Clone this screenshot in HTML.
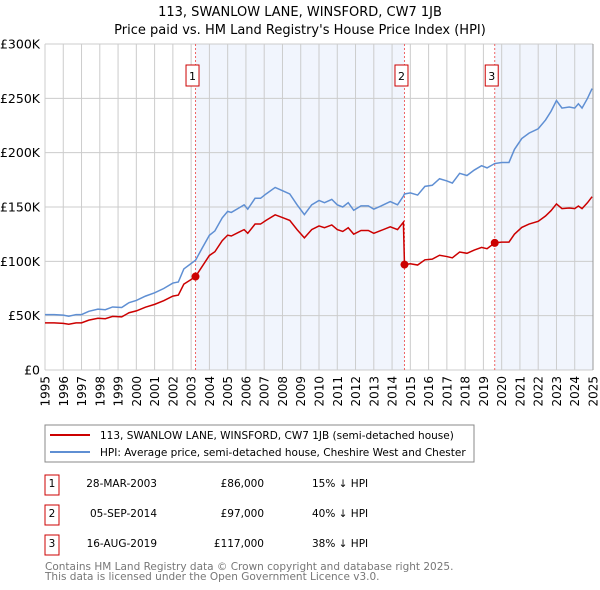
<!DOCTYPE html>
<html><head><meta charset="utf-8">
<style>
body{margin:0;background:#fff;font-family:"DejaVu Sans","Liberation Sans",sans-serif;}
#wrap{position:relative;width:600px;height:590px;overflow:hidden}
</style></head>
<body>
<div id="wrap">
<svg id="chart" width="600" height="590" font-family="DejaVu Sans, Liberation Sans, sans-serif">
<text x="300" y="16" text-anchor="middle" font-size="13">113, SWANLOW LANE, WINSFORD, CW7 1JB</text>
<text x="300" y="34" text-anchor="middle" font-size="13">Price paid vs. HM Land Registry's House Price Index (HPI)</text>
<g id="plot"></g>
<rect x="45" y="425" width="429" height="37" fill="#fff" stroke="#888"/>
<line x1="50" y1="435" x2="90" y2="435" stroke="#cc0000" stroke-width="2"/>
<text x="100" y="439" font-size="10.5">113, SWANLOW LANE, WINSFORD, CW7 1JB (semi-detached house)</text>
<line x1="50" y1="452" x2="90" y2="452" stroke="#5f8fd3" stroke-width="2"/>
<text x="100" y="456" font-size="10.5">HPI: Average price, semi-detached house, Cheshire West and Chester</text>
<g font-size="10.5">
<rect x="45" y="475" width="14" height="20" fill="none" stroke="#cc0000"/><text x="52" y="487" text-anchor="middle">1</text>
<text x="157" y="487" text-anchor="end">28-MAR-2003</text><text x="264" y="487" text-anchor="end">£86,000</text><text x="312" y="487">15% ↓ HPI</text>
<rect x="45" y="505" width="14" height="20" fill="none" stroke="#cc0000"/><text x="52" y="517" text-anchor="middle">2</text>
<text x="157" y="517" text-anchor="end">05-SEP-2014</text><text x="264" y="517" text-anchor="end">£97,000</text><text x="312" y="517">40% ↓ HPI</text>
<rect x="45" y="535" width="14" height="20" fill="none" stroke="#cc0000"/><text x="52" y="547" text-anchor="middle">3</text>
<text x="157" y="547" text-anchor="end">16-AUG-2019</text><text x="264" y="547" text-anchor="end">£117,000</text><text x="312" y="547">38% ↓ HPI</text>
</g>
<text x="45" y="570" font-size="10.5" fill="#777">Contains HM Land Registry data © Crown copyright and database right 2025.</text>
<text x="45" y="580" font-size="10.5" fill="#777">This data is licensed under the Open Government Licence v3.0.</text>
</svg>
</div>
<script>
const yTicks=[0,50,100,150,200,250,300];
const yTickLabels=["£0","£50K","£100K","£150K","£200K","£250K","£300K"];
const xYears=[1995,1996,1997,1998,1999,2000,2001,2002,2003,2004,2005,2006,2007,2008,2009,2010,2011,2012,2013,2014,2015,2016,2017,2018,2019,2020,2021,2022,2023,2024,2025];
const saleDates=[2003.24,2014.68,2019.62];
const salePrices=[86,97,117];
const saleLabels=["1","2","3"];
const hpiDates=[1995.0,1995.5,1996.0,1996.3,1996.7,1997.0,1997.4,1997.9,1998.3,1998.7,1999.2,1999.6,2000.0,2000.5,2001.0,2001.5,2002.0,2002.3,2002.6,2003.0,2003.24,2003.6,2004.0,2004.3,2004.7,2005.0,2005.2,2005.6,2005.9,2006.1,2006.5,2006.8,2007.1,2007.6,2008.0,2008.4,2008.8,2009.2,2009.6,2010.0,2010.3,2010.7,2011.0,2011.3,2011.6,2011.9,2012.3,2012.7,2013.0,2013.4,2013.9,2014.3,2014.62,2014.68,2015.0,2015.4,2015.8,2016.2,2016.6,2017.0,2017.3,2017.7,2018.1,2018.5,2018.9,2019.2,2019.62,2020.0,2020.4,2020.7,2021.1,2021.5,2022.0,2022.4,2022.7,2023.0,2023.3,2023.7,2024.0,2024.2,2024.4,2024.7,2024.95];
const hpiValues=[51,51,50.5,49.5,51,51,54,56,55.5,58,57.5,62,64,68,71,75,80,81,93,98,101,112,124,128,140,146,145,149,152,148,158,158,162,168,165,162,152,143,152,156,154,157,152,150,154,147,151,151,148,151,155,152,160,162,163,161,169,170,176,174,172,181,179,184,188,186,190,191,191,203,213,218,222,230,238,248,241,242,241,245,241,250,259];
const priceValues=[43.4,43.4,42.9,42.1,43.4,43.4,45.9,47.6,47.2,49.3,48.9,52.7,54.4,57.8,60.4,63.8,68,68.9,79,83.3,86,95.2,105.4,108.8,119,124.1,123.3,126.7,129.2,125.8,134.3,134.3,137.7,142.8,140.3,137.7,129.2,121.6,129.2,132.6,130.9,133.5,129.2,127.5,130.9,125,128.4,128.4,125.8,128.4,131.8,129.2,136,97,97.8,96.6,101.4,102,105.6,104.4,103.2,108.6,107.4,110.4,112.8,111.6,117,117.7,117.7,125,131.2,134.3,136.8,141.7,146.6,152.8,148.5,149.1,148.5,150.9,148.5,154,159.5];

const X0=45,X1=593,Y0=370,Y1=44;
const xs=v=>X0+(v-1995)/30*(X1-X0);
const ys=v=>Y0-v/300*(Y0-Y1);
const NS="http://www.w3.org/2000/svg";
const g=document.getElementById('plot');
function mk(t,a){const e=document.createElementNS(NS,t);for(const k in a)e.setAttribute(k,a[k]);g.appendChild(e);return e;}

let e;
e=mk('rect',{x:xs(saleDates[0]),y:Y1,width:xs(saleDates[1])-xs(saleDates[0]),height:Y0-Y1,fill:'#f1f5fd'});


e=mk('rect',{x:xs(saleDates[2]),y:Y1,width:X1-xs(saleDates[2]),height:Y0-Y1,fill:'#f1f5fd'});



xYears.forEach((yr,i)=>{
  e=mk('line',{x1:xs(yr),x2:xs(yr),y1:Y1,y2:Y0,stroke:'#cccccc','stroke-width':1});
  
  
  const x=xs(yr)+4.5;
  e=mk('text',{x:x,y:376,'font-size':12,'text-anchor':'end',transform:`rotate(-90 ${x} 376)`});
  e.textContent=String(yr);
  
  
});
yTicks.forEach((v,i)=>{
  e=mk('line',{x1:X0,x2:X1,y1:ys(v),y2:ys(v),stroke:'#cccccc','stroke-width':1});
  
  
  e=mk('text',{x:40,y:ys(v)+4.5,'font-size':12.5,'text-anchor':'end'});
  e.textContent=yTickLabels[i];
  
  
});
e=mk('line',{x1:X1,x2:X1,y1:Y1,y2:Y0,stroke:'#999','stroke-width':1});



saleDates.forEach((d,i)=>{
  e=mk('line',{x1:xs(d),x2:xs(d),y1:Y1,y2:Y0,stroke:'#e66','stroke-width':1,'stroke-dasharray':'2,2'});
  
  
});

e=mk('polyline',{points:hpiDates.map((d,i)=>xs(d)+','+ys(hpiValues[i])).join(' '),fill:'none',stroke:'#5f8fd3','stroke-width':1.5});


e=mk('polyline',{points:hpiDates.map((d,i)=>xs(d)+','+ys(priceValues[i])).join(' '),fill:'none',stroke:'#cc0000','stroke-width':1.5});



saleDates.forEach((d,i)=>{
  e=mk('circle',{cx:xs(d),cy:ys(salePrices[i]),r:4,fill:'#cc0000'});
  
  
  const bx=xs(d)-3;
  e=mk('rect',{x:bx-6.5,y:65,width:13,height:21,fill:'#fff',stroke:'#cc0000'});
  
  
  e=mk('text',{x:bx,y:80,'font-size':11,'text-anchor':'middle'});
  e.textContent=saleLabels[i];
  
  
});
</script>
</body></html>
